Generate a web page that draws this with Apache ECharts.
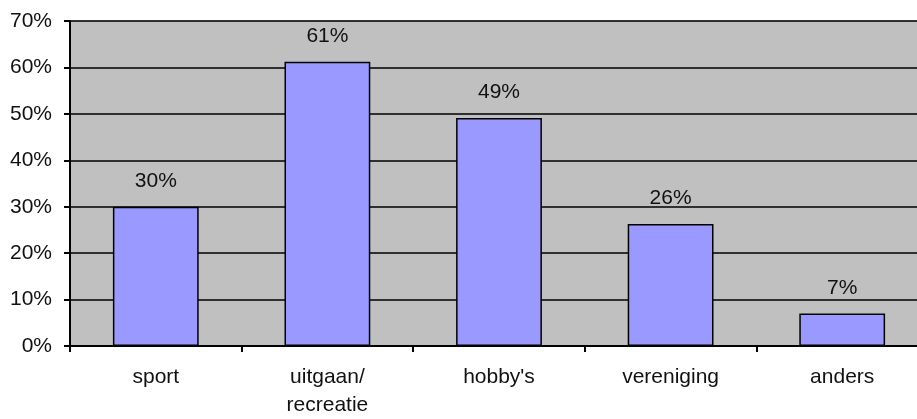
<!DOCTYPE html>
<html>
<head>
<meta charset="utf-8">
<script src="https://cdn.jsdelivr.net/npm/echarts@6/dist/echarts.min.js"></script>
<style>
  html, body { margin: 0; padding: 0; background: #fff; }
  #chart { width: 917px; height: 419px; }
</style>
</head>
<body>
<div id="chart"></div>
<script>
// categorieën en percentages
const categories = ['sport', 'uitgaan/\nrecreatie', "hobby's", 'vereniging', 'anders'];
const values = [30, 61.2, 49.1, 26.3, 7];
const labels = ['30%', '61%', '49%', '26%', '7%'];

let chart = echarts.init(document.getElementById('chart'));
let font = 'Liberation Sans, Arial';
let option = {
  animation: false,
  grid: {
    left: 70,
    top: 21,
    width: 858,
    height: 325,
    outerBoundsMode: 'none',
    containLabel: false,
    show: true,
    backgroundColor: '#c0c0c0',
    borderColor: '#a0a0a0',
    borderWidth: 1
  },
  xAxis: {
    type: 'category',
    data: categories,
    axisLine: { lineStyle: { color: '#000', width: 2 } },
    axisTick: { show: true, length: 6, lineStyle: { color: '#000', width: 2 } },
    axisLabel: {
      color: '#111',
      fontFamily: font,
      fontSize: 21,
      lineHeight: 28,
      margin: 17
    }
  },
  yAxis: {
    type: 'value',
    min: 0,
    max: 70,
    interval: 10,
    axisLine: { show: true, lineStyle: { color: '#000', width: 2 } },
    axisTick: { show: true, length: 6, lineStyle: { color: '#000', width: 2 } },
    splitLine: { lineStyle: { color: '#000', width: 1.5 } },
    axisLabel: {
      color: '#111',
      fontFamily: font,
      fontSize: 21,
      margin: 18,
      formatter: '{value}%'
    }
  },
  series: [{
    type: 'bar',
    data: values,
    barWidth: '50%',
    itemStyle: { color: '#9999ff', borderColor: '#000', borderWidth: 1.5 },
    label: {
      show: true,
      position: 'top',
      distance: 15,
      color: '#111',
      fontFamily: font,
      fontSize: 21,
      formatter: p => labels[p.dataIndex]
    }
  }]
};
chart.setOption(option);
</script>
</body>
</html>
